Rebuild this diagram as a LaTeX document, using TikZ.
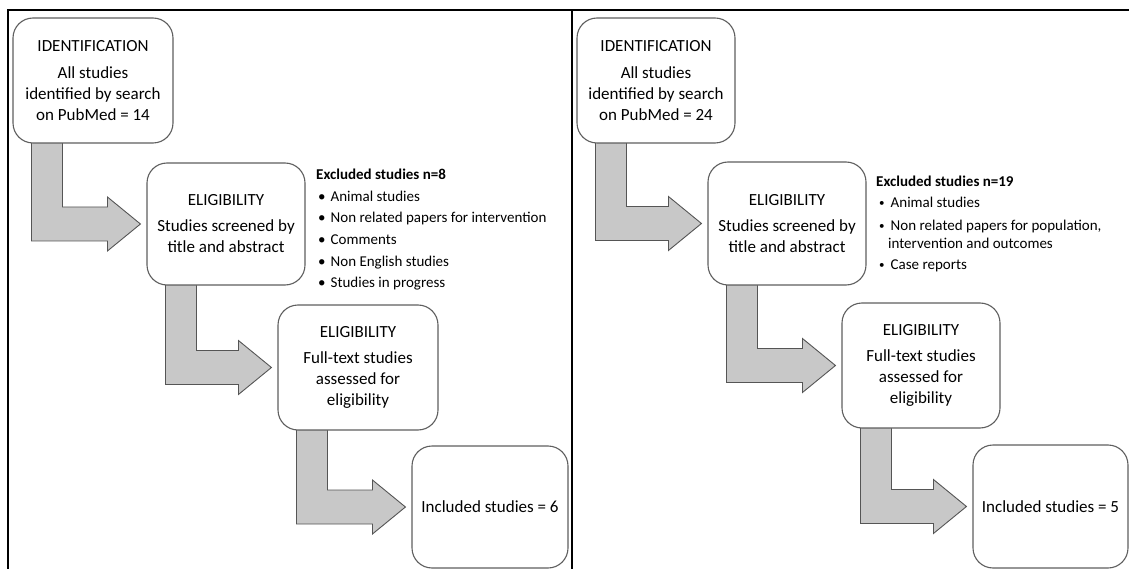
\documentclass[tikz,border=0pt]{standalone}
\usepackage{fontspec}
\setmainfont{Carlito}
\usetikzlibrary{calc,backgrounds}
\definecolor{boxline}{RGB}{95,95,95}
\definecolor{arrowfill}{RGB}{200,200,200}
\definecolor{arrowline}{RGB}{85,85,85}

% L-shaped block arrow leaving the bottom of #1 and pointing at the left side of #2
\newcommand{\lflow}[2]{%
  \path[flow] let \p1=(#1.south west), \p2=(#2.west) in
    (\x1+19pt,\y1+1pt) -- (\x1+19pt,\y2-17pt) -- (\x2-39pt,\y2-17pt)
    -- (\x2-39pt,\y2-27pt) -- (\x2-6pt,\y2) -- (\x2-39pt,\y2+27pt)
    -- (\x2-39pt,\y2+17pt) -- (\x1+50pt,\y2+17pt) -- (\x1+50pt,\y1+1pt) -- cycle;%
}
% small bullet used in the right-hand list
\newcommand{\smallbul}{{\fontsize{11}{11}\selectfont\raisebox{0.6pt}{•}}}

\begin{document}
\begin{tikzpicture}[x=1pt,y=-1pt,
  stage/.style={draw=boxline, line width=1.1pt, fill=white, rounded corners=20pt,
    align=center, inner sep=2pt, font=\fontsize{17}{21}\selectfont},
  listhead/.style={anchor=base west, inner sep=0pt, font=\fontsize{15}{18}\selectfont\bfseries},
  listitem/.style={anchor=base west, inner sep=0pt, font=\fontsize{15}{18}\selectfont},
  frameline/.style={line width=2pt, black},
  flow/.style={fill=arrowfill, draw=arrowline, line width=0.9pt, line join=miter}]

\useasboundingbox (0,0) rectangle (1129,569);

% outer frame and panel divider
\draw[frameline] (8,569) -- (8,10) -- (1129,10);
\draw[frameline] (572,10) -- (572,569);

% ---------- left panel ----------
\node[stage, minimum width=160pt, minimum height=125pt] (idA) at (93,80.5)
  {IDENTIFICATION\\[6pt]All studies\\identified by search\\on PubMed = 14};
\node[stage, minimum width=158pt, minimum height=122pt] (scrA) at (226,224)
  {ELIGIBILITY\\[5pt]Studies screened by\\title and abstract};
\node[stage, minimum width=160pt, minimum height=125pt] (fullA) at (358,367.5)
  {ELIGIBILITY\\[5pt]Full-text studies\\assessed for\\eligibility};
\node[stage, minimum width=156pt, minimum height=122pt] (incA) at (490,507)
  {Included studies = 6};

\node[listhead] (exA) at (316,180) {Excluded studies n=8};
\node[listitem] (exA1) at (318,201.5) {•\hspace{5pt}Animal studies};
\node[listitem] (exA2) at (318,223) {•\hspace{5pt}Non related papers for intervention};
\node[listitem] (exA3) at (318,244.5) {•\hspace{5pt}Comments};
\node[listitem] (exA4) at (318,266) {•\hspace{5pt}Non English studies};
\node[listitem] (exA5) at (318,287.5) {•\hspace{5pt}Studies in progress};

% ---------- right panel ----------
\node[stage, minimum width=158pt, minimum height=125pt] (idB) at (656,80.5)
  {IDENTIFICATION\\[6pt]All studies\\identified by search\\on PubMed = 24};
\node[stage, minimum width=158pt, minimum height=123pt] (scrB) at (787,223.5)
  {ELIGIBILITY\\[5pt]Studies screened by\\title and abstract};
\node[stage, minimum width=158pt, minimum height=125pt] (fullB) at (921,365.5)
  {ELIGIBILITY\\[5pt]Full-text studies\\assessed for\\eligibility};
\node[stage, minimum width=155pt, minimum height=123pt] (incB) at (1050.5,506.5)
  {Included studies = 5};

\node[listhead] (exB) at (876,186.5) {Excluded studies n=19};
\node[listitem] (exB1) at (879,207.5) {\smallbul\hspace{6pt}Animal studies};
\node[listitem] (exB2) at (879,230.5) {\smallbul\hspace{6pt}Non related papers for population,};
\node[listitem] (exB2b) at (888,248.5) {intervention and outcomes};
\node[listitem] (exB3) at (879,269.5) {\smallbul\hspace{6pt}Case reports};

% ---------- block arrows between stages ----------
\begin{scope}[on background layer]
  \lflow{idA}{scrA}
  \lflow{scrA}{fullA}
  \lflow{fullA}{incA}
  \lflow{idB}{scrB}
  \lflow{scrB}{fullB}
  \lflow{fullB}{incB}
\end{scope}
\end{tikzpicture}
\end{document}
